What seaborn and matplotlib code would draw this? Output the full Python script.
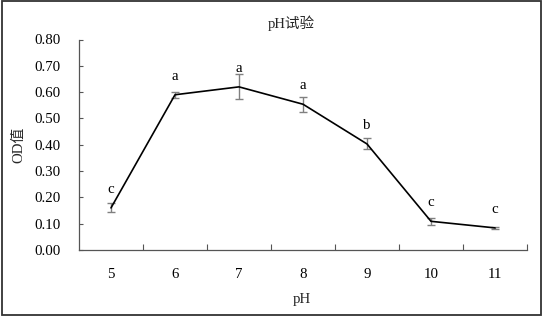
import matplotlib
matplotlib.use("Agg")
import matplotlib.pyplot as plt
import seaborn as sns
import pandas as pd
from matplotlib.patches import Rectangle
from matplotlib.ticker import FixedLocator

ph = [5, 6, 7, 8, 9, 10, 11]
od = [0.160, 0.590, 0.620, 0.554, 0.403, 0.109, 0.084]
err = [0.017, 0.011, 0.048, 0.028, 0.021, 0.013, 0.003]
letters = ["c", "a", "a", "a", "b", "c", "c"]
yticks = [0.0, 0.1, 0.2, 0.3, 0.4, 0.5, 0.6, 0.7, 0.8]

sns.set_theme(style="white")
plt.rcParams['font.family'] = ['Liberation Serif', 'Noto Sans CJK SC']
plt.rcParams['axes.unicode_minus'] = False

df = pd.DataFrame({"pH": ph, "OD": od, "err": err})

fig = plt.figure(figsize=(5.43, 3.16), dpi=100)
ax = fig.add_axes([79/543, 66/316, (527-79)/543, (250-39.5)/316])

ax.errorbar(df["pH"], df["OD"], yerr=df["err"], fmt='none', ecolor='#808080',
            elinewidth=1.0, capsize=2.6, capthick=1.0, zorder=2)
sns.lineplot(data=df, x="pH", y="OD", ax=ax, color='black', linewidth=1.2,
             zorder=3, errorbar=None)

for x, y, t in zip(ph, od, letters):
    ax.annotate(t, (x, y), xytext=(0, 13.3), textcoords='offset points',
                ha='center', va='center', fontsize=10.7, color='black')

ax.set_xlim(4.5, 11.5)
ax.set_ylim(0, 0.8)
ax.set_yticks(yticks)
ax.set_yticklabels([f"{v:.2f}" for v in yticks])
ax.set_xticks(ph)
ax.set_xticklabels([str(v) for v in ph])
ax.xaxis.set_minor_locator(FixedLocator([v + 0.5 for v in ph]))
ax.tick_params(axis='x', which='major', length=0, pad=13, labelsize=10.7, colors='black')
ax.tick_params(axis='x', which='minor', length=4, direction='in', width=0.8, color='#555555')
ax.tick_params(axis='y', which='major', length=3, direction='in', width=0.8, color='#555555',
               pad=13, labelsize=10.7, labelcolor='black')
ax.tick_params(axis='x', which='major', bottom=True)
ax.xaxis.set_tick_params(which='minor', bottom=True)
ax.yaxis.set_tick_params(left=True)

for s in ['top', 'right']:
    ax.spines[s].set_visible(False)
for s in ['left', 'bottom']:
    ax.spines[s].set_color('#555555')
    ax.spines[s].set_linewidth(0.9)

ax.set_xlabel("")
ax.set_ylabel("")
fig.text(302/543, 1 - 299/316, "pH", ha='center', va='center', fontsize=10.7)
fig.text(19/543, 1 - 145/316, "OD值", ha='center', va='center', fontsize=10.7, rotation=90)
fig.text(291/543, 1 - 23/316, "pH试验", ha='center', va='center', fontsize=10.5)

fig.patches.append(Rectangle((0.003, 0.004), 0.993, 0.992, transform=fig.transFigure,
                             fill=False, edgecolor='#333333', linewidth=1.3))

fig.savefig("out.png", dpi=100)
